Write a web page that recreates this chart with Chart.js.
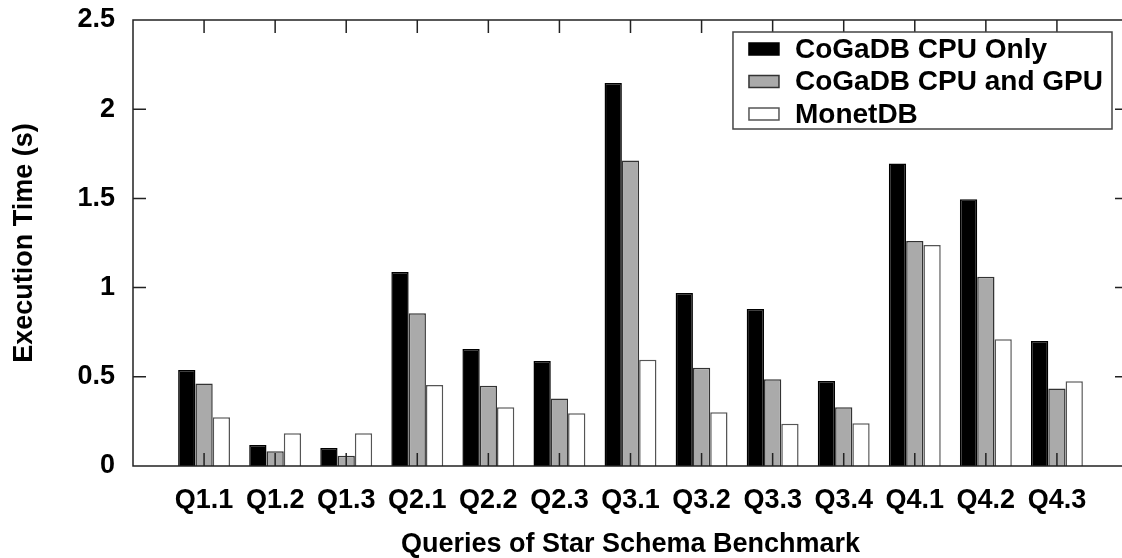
<!DOCTYPE html>
<html>
<head>
<meta charset="utf-8">
<script src="https://cdn.jsdelivr.net/npm/chart.js@4"></script>
<style>
  html, body { margin: 0; padding: 0; background: #fff; overflow: hidden; }
  #chart { display: block; }
</style>
</head>
<body>
<canvas id="chart" width="1140" height="558" style="width:1140px;height:558px"></canvas>
<script>
// values
const queries = ['Q1.1','Q1.2','Q1.3','Q2.1','Q2.2','Q2.3','Q3.1','Q3.2','Q3.3','Q3.4','Q4.1','Q4.2','Q4.3'];
const cpuOnly = [0.538, 0.118, 0.101, 1.087, 0.656, 0.589, 2.147, 0.970, 0.880, 0.476, 1.695, 1.495, 0.700];
const cpuAndGpu = [0.463, 0.082, 0.058, 0.856, 0.450, 0.379, 1.713, 0.551, 0.486, 0.329, 1.261, 1.061, 0.435];
const monetDb = [0.273, 0.183, 0.183, 0.454, 0.329, 0.295, 0.596, 0.301, 0.237, 0.239, 1.239, 0.710, 0.475];
const yTicks = [0, 0.5, 1, 1.5, 2, 2.5];
const yTickLabels = ['0', '0.5', '1', '1.5', '2', '2.5'];

const FONT = "'Liberation Sans', Arial, Helvetica, sans-serif";

function points(values) {
    return values.map((v, i) => ({ x: i, y: v }));
}

// gnuplot style frame with inward ticks on all four sides
const framePlugin = {
    id: 'frame',
    afterDatasetsDraw(chart) {
        const ctx = chart.ctx;
        const a = chart.chartArea;
        const xs = chart.scales.x;
        const ys = chart.scales.y;
        const len = 13;
        ctx.save();
        ctx.strokeStyle = '#222';
        ctx.lineWidth = 1.5;
        ctx.beginPath();
        ctx.rect(a.left, a.top, a.right - a.left, a.bottom - a.top);
        for (let i = 0; i < queries.length; i++) {
            let px = xs.getPixelForValue(i);
            ctx.moveTo(px, a.top); ctx.lineTo(px, a.top + len);
            ctx.moveTo(px, a.bottom); ctx.lineTo(px, a.bottom - len);
        }
        for (let v of yTicks) {
            let py = ys.getPixelForValue(v);
            ctx.moveTo(a.left, py); ctx.lineTo(a.left + len, py);
            ctx.moveTo(a.right, py); ctx.lineTo(a.right - len, py);
        }
        ctx.stroke();
        ctx.restore();
    }
};

// boxed legend inside the plot, top right
const boxLegendPlugin = {
    id: 'boxLegend',
    afterDraw(chart) {
        const ctx = chart.ctx;
        const a = chart.chartArea;
        const sets = chart.data.datasets;
        ctx.save();
        ctx.font = 'bold 28px ' + FONT;
        let maxW = 0;
        for (let d of sets) maxW = Math.max(maxW, ctx.measureText(d.label).width);
        const boxW = 62 + maxW + 9;
        const right = a.right - 16;
        const left = right - boxW;
        const top = a.top + 12;
        const boxH = 97;
        ctx.fillStyle = '#fff';
        ctx.fillRect(left, top, boxW, boxH);
        ctx.strokeStyle = '#444';
        ctx.lineWidth = 1.5;
        ctx.strokeRect(left, top, boxW, boxH);
        ctx.textBaseline = 'middle';
        sets.forEach((d, i) => {
            let cy = top + 17 + i * 32.5;
            ctx.fillStyle = d.backgroundColor;
            ctx.fillRect(left + 16, cy - 6, 30, 12);
            ctx.strokeStyle = d.borderColor;
            ctx.lineWidth = 1.5;
            ctx.strokeRect(left + 16, cy - 6, 30, 12);
            ctx.fillStyle = '#000';
            ctx.fillText(d.label, left + 62, cy + 1);
        });
        ctx.restore();
    }
};

new Chart(document.getElementById('chart'), {
    type: 'bar',
    data: {
        datasets: [
            { label: 'CoGaDB CPU Only', data: points(cpuOnly), backgroundColor: '#000000', borderColor: '#000000', borderWidth: 1.5 },
            { label: 'CoGaDB CPU and GPU', data: points(cpuAndGpu), backgroundColor: '#aaaaaa', borderColor: '#333333', borderWidth: 1.5 },
            { label: 'MonetDB', data: points(monetDb), backgroundColor: '#ffffff', borderColor: '#555555', borderWidth: 1.5 }
        ]
    },
    options: {
        responsive: false,
        animation: false,
        categoryPercentage: 0.73,
        barPercentage: 1.0,
        layout: { padding: { top: 20, right: 12, bottom: 0, left: 0 } },
        plugins: {
            legend: { display: false },
            tooltip: { enabled: false }
        },
        scales: {
            x: {
                type: 'linear',
                min: -1,
                max: 13,
                offset: false,
                grid: { display: false, drawTicks: false },
                border: { display: false },
                afterBuildTicks(scale) {
                    scale.ticks = queries.map((q, i) => ({ value: i }));
                },
                afterFit(scale) {
                    scale.height = 92;
                    scale.paddingLeft = 0;
                    scale.paddingRight = 0;
                },
                ticks: {
                    autoSkip: false,
                    maxRotation: 0,
                    padding: 18,
                    color: '#000',
                    font: { family: FONT, size: 27, weight: 'bold' },
                    callback: (v) => queries[v]
                },
                title: {
                    display: true,
                    text: 'Queries of Star Schema Benchmark',
                    color: '#000',
                    padding: { top: 0, bottom: -3 },
                    font: { family: FONT, size: 27, weight: 'bold' }
                }
            },
            y: {
                min: 0,
                max: 2.5,
                grid: { display: false, drawTicks: false },
                border: { display: false },
                afterBuildTicks(scale) {
                    scale.ticks = yTicks.map(v => ({ value: v }));
                },
                afterFit(scale) {
                    scale.width = 133;
                    scale.paddingTop = 0;
                    scale.paddingBottom = 0;
                },
                ticks: {
                    padding: 18,
                    color: '#000',
                    font: { family: FONT, size: 27, weight: 'bold' },
                    callback: (v) => yTickLabels[yTicks.indexOf(v)]
                },
                title: {
                    display: true,
                    text: 'Execution Time (s)',
                    color: '#000',
                    padding: { top: 8, bottom: 0 },
                    font: { family: FONT, size: 27, weight: 'bold' }
                }
            }
        }
    },
    plugins: [framePlugin, boxLegendPlugin]
});
</script>
</body>
</html>
